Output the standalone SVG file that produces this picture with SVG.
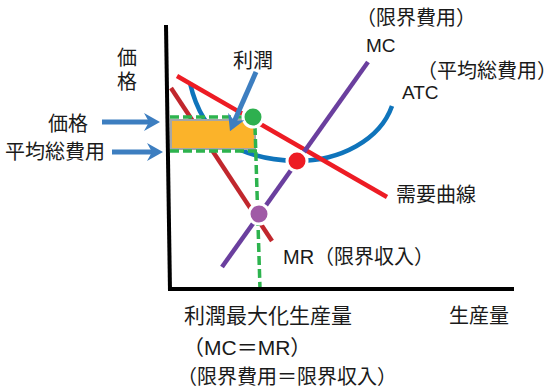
<svg xmlns="http://www.w3.org/2000/svg" width="549" height="390" viewBox="0 0 549 390">
<defs>
<style>
text{font-family:"Liberation Sans","Noto Sans CJK JP",sans-serif;fill:#1a1a1a}
.halt{font-feature-settings:"halt" 1}
.axis{stroke:#000;stroke-width:4;fill:none}
.curve{fill:none;stroke-width:4.5}
.dash{stroke:#2db34e;stroke-width:3.5;stroke-dasharray:9 4;fill:none}
.arrow{stroke:#3d7ec0;stroke-width:5;fill:none;marker-end:url(#head)}
.dot{stroke:#fff;stroke-width:3}
</style>
<marker id="head" markerUnits="userSpaceOnUse" viewBox="0 0 16 18" markerWidth="16" markerHeight="18" refX="6" refY="9" orient="auto">
<path d="M0,0 L16,9 L0,18 L5,9 z" fill="#3d7ec0"/>
</marker>
</defs>
<g id="connectors">
<path id="atc-curve" class="curve" stroke="#0f74bb" d="M190,83 C203,140 240,159 297,161 C340,161 380,140 392,106"/>
<line id="mr-line" class="curve" stroke="#c1272d" x1="171" y1="88" x2="272" y2="241"/>
<line id="demand-line" class="curve" stroke="#ed1c24" stroke-width="5" x1="177" y1="76" x2="387" y2="197"/>
<line id="mc-line" class="curve" stroke="#6a3f9e" x1="368" y1="62" x2="222" y2="267"/>
</g>
<g id="profit-area">
<rect x="171" y="120" width="84" height="29" fill="#fbb32a" stroke="#a6a6a6" stroke-width="2"/>
</g>
<g id="guides">
<line class="dash" x1="170" y1="117" x2="246" y2="117"/>
<line class="dash" x1="170" y1="151" x2="257" y2="151"/>
<line class="dash" x1="255" y1="126" x2="260" y2="289"/>
</g>
<g id="axes">
<line class="axis" x1="166" y1="25" x2="170" y2="291"/>
<line class="axis" x1="168" y1="289" x2="514" y2="289"/>
</g>
<g id="points">
<circle id="dot-green" class="dot" cx="253" cy="117" r="10" fill="#2eb04f"/>
<circle id="dot-red" class="dot" cx="297" cy="161" r="10" fill="#ed1c24"/>
<circle id="dot-purple" class="dot" cx="259" cy="214" r="10" fill="#a05aa6"/>
</g>
<g id="arrows">
<line class="arrow" x1="102" y1="122" x2="150" y2="122"/>
<line class="arrow" x1="112" y1="152" x2="153" y2="152"/>
<line class="arrow" x1="256" y1="72" x2="234" y2="122"/>
</g>
<g id="labels">
<text x="127" y="65" font-size="20" text-anchor="middle">価</text>
<text x="127" y="89" font-size="20" text-anchor="middle">格</text>
<text x="253" y="68" font-size="20" text-anchor="middle">利潤</text>
<text x="68" y="131" font-size="20" text-anchor="middle">価格</text>
<text x="5" y="159" font-size="20">平均総費用</text>
<text x="356" y="25" font-size="20">（限界費用）</text>
<text x="366" y="52" font-size="19">MC</text>
<text class="halt" x="427" y="78" font-size="20">（平均総費用）</text>
<text x="402" y="99" font-size="19">ATC</text>
<text x="396" y="202" font-size="20">需要曲線</text>
<text x="283" y="264" font-size="20">MR（限界収入）</text>
<text x="184" y="323" font-size="21">利潤最大化生産量</text>
<text x="449" y="323" font-size="20">生産量</text>
<text x="183" y="355" font-size="21">（MC＝MR）</text>
<text x="177" y="384" font-size="20">（限界費用＝限界収入）</text>
</g>
</svg>
